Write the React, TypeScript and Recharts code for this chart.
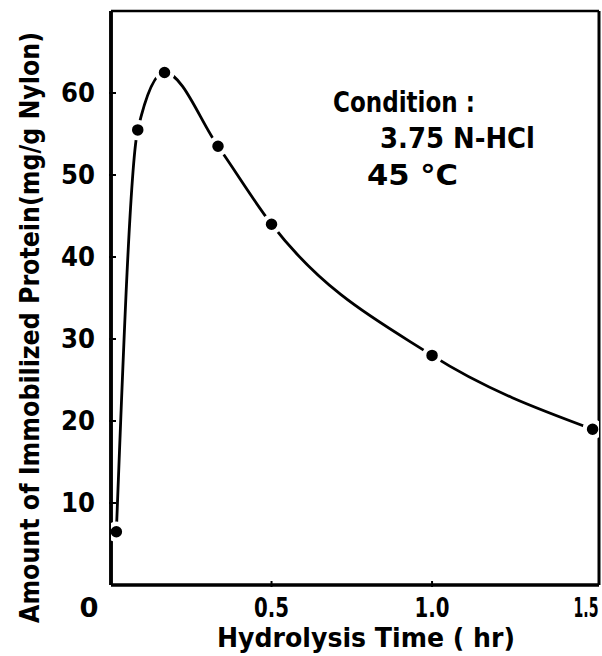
import React from "react";
import { LineChart, Line, XAxis, YAxis, ReferenceLine } from "recharts";

// Hydrolysis time (hr) and amount of immobilized protein (mg/g Nylon)
const timeHr = [0.0167, 0.0833, 0.1667, 0.3333, 0.5, 1.0, 1.5];
const protein = [6.5, 55.5, 62.5, 53.5, 44, 28, 19];

const xTicks = [0, 0.5, 1.0, 1.5];
const xTickLabels = ["0", "0.5", "1.0", "1.5"];
const yTicks = [10, 20, 30, 40, 50, 60];

const X_MAX = 1.52;
const Y_MAX = 70;

const conditionLines = ["Condition :", "3.75 N-HCl", "45 °C"];
const xTitle = "Hydrolysis  Time ( hr)";
const yTitle = "Amount of Immobilized Protein(mg/g Nylon)";

const data = timeHr.map((t, i) => ({ t, p: protein[i] }));

const FONT = "'DejaVu Sans', 'Liberation Sans', sans-serif";

const YTick = (props: any) => {
  const { x, y, payload } = props;
  return (
    <g>
      <line x1={x} y1={y} x2={x + 7} y2={y} stroke="#000" strokeWidth={2} />
      <text
        x={x - 14}
        y={y + 9}
        textAnchor="end"
        textLength={34}
        lengthAdjust="spacingAndGlyphs"
        fontFamily={FONT}
        fontWeight="bold"
        fontSize={26}
        fill="#000"
      >
        {payload.value}
      </text>
    </g>
  );
};

const XTick = (props: any) => {
  const { x, y, payload } = props;
  const idx = xTicks.indexOf(payload.value);
  const label = xTickLabels[idx] ?? String(payload.value);
  const isZero = payload.value === 0;
  const isLast = idx === xTicks.length - 1;
  const w = label.length === 1 ? 19 : isLast ? 25 : 35;
  return (
    <g>
      {!isZero && !isLast && <line x1={x} y1={y} x2={x} y2={y - 6} stroke="#000" strokeWidth={2} />}
      <text
        x={isZero ? x - 22 : isLast ? x - 6 : x}
        y={y + 30}
        textAnchor="middle"
        textLength={w}
        lengthAdjust="spacingAndGlyphs"
        fontFamily={FONT}
        fontWeight="bold"
        fontSize={26}
        fill="#000"
      >
        {label}
      </text>
    </g>
  );
};

export default function App() {
  return (
    <div style={{ position: "absolute", left: 0, top: 0, width: 602, height: 656, background: "#fff" }}>
      <LineChart
        width={602}
        height={656}
        data={data}
        margin={{ top: 11, right: 3, bottom: 41, left: 51 }}
      >
        <XAxis
          dataKey="t"
          type="number"
          domain={[0, X_MAX]}
          ticks={xTicks}
          tick={<XTick />}
          tickLine={false}
          tickSize={0}
          height={30}
          axisLine={{ stroke: "#000", strokeWidth: 3 }}
          allowDataOverflow
        />
        <YAxis
          type="number"
          domain={[0, Y_MAX]}
          ticks={yTicks}
          tick={<YTick />}
          tickLine={false}
          tickSize={0}
          width={60}
          axisLine={{ stroke: "#000", strokeWidth: 3.5 }}
          allowDataOverflow
        />
        <Line
          dataKey="p"
          type="monotone"
          stroke="#000"
          strokeWidth={2.8}
          dot={{ r: 8, fill: "#000", stroke: "#fff", strokeWidth: 4.5 }}
          activeDot={false}
          isAnimationActive={false}
        />
        <ReferenceLine y={Y_MAX} stroke="#000" strokeWidth={2.5} />
        <ReferenceLine x={X_MAX} stroke="#000" strokeWidth={3} />
        <ReferenceLine x={0} stroke="#000" strokeWidth={3.5} />
        <ReferenceLine y={0} stroke="#000" strokeWidth={3} />
      </LineChart>
      <svg
        width={602}
        height={656}
        style={{ position: "absolute", left: 0, top: 0, pointerEvents: "none" }}
      >
        <text x={333} y={112} textLength={142} lengthAdjust="spacingAndGlyphs" fontFamily={FONT} fontWeight="bold" fontSize={29} fill="#000">
          {conditionLines[0]}
        </text>
        <text x={380} y={148} textLength={155} lengthAdjust="spacingAndGlyphs" fontFamily={FONT} fontWeight="bold" fontSize={29} fill="#000">
          {conditionLines[1]}
        </text>
        <text x={367} y={185} textLength={91} lengthAdjust="spacingAndGlyphs" fontFamily={FONT} fontWeight="bold" fontSize={28} fill="#000">
          {conditionLines[2]}
        </text>
        <text x={217} y={647} textLength={298} lengthAdjust="spacingAndGlyphs" fontFamily={FONT} fontWeight="bold" fontSize={26} fill="#000">
          {xTitle}
        </text>
        <text
          x={0}
          y={0}
          transform="translate(39,623) rotate(-90)"
          textLength={591}
          lengthAdjust="spacingAndGlyphs"
          fontFamily={FONT}
          fontWeight="bold"
          fontSize={26}
          fill="#000"
        >
          {yTitle}
        </text>
      </svg>
    </div>
  );
}
